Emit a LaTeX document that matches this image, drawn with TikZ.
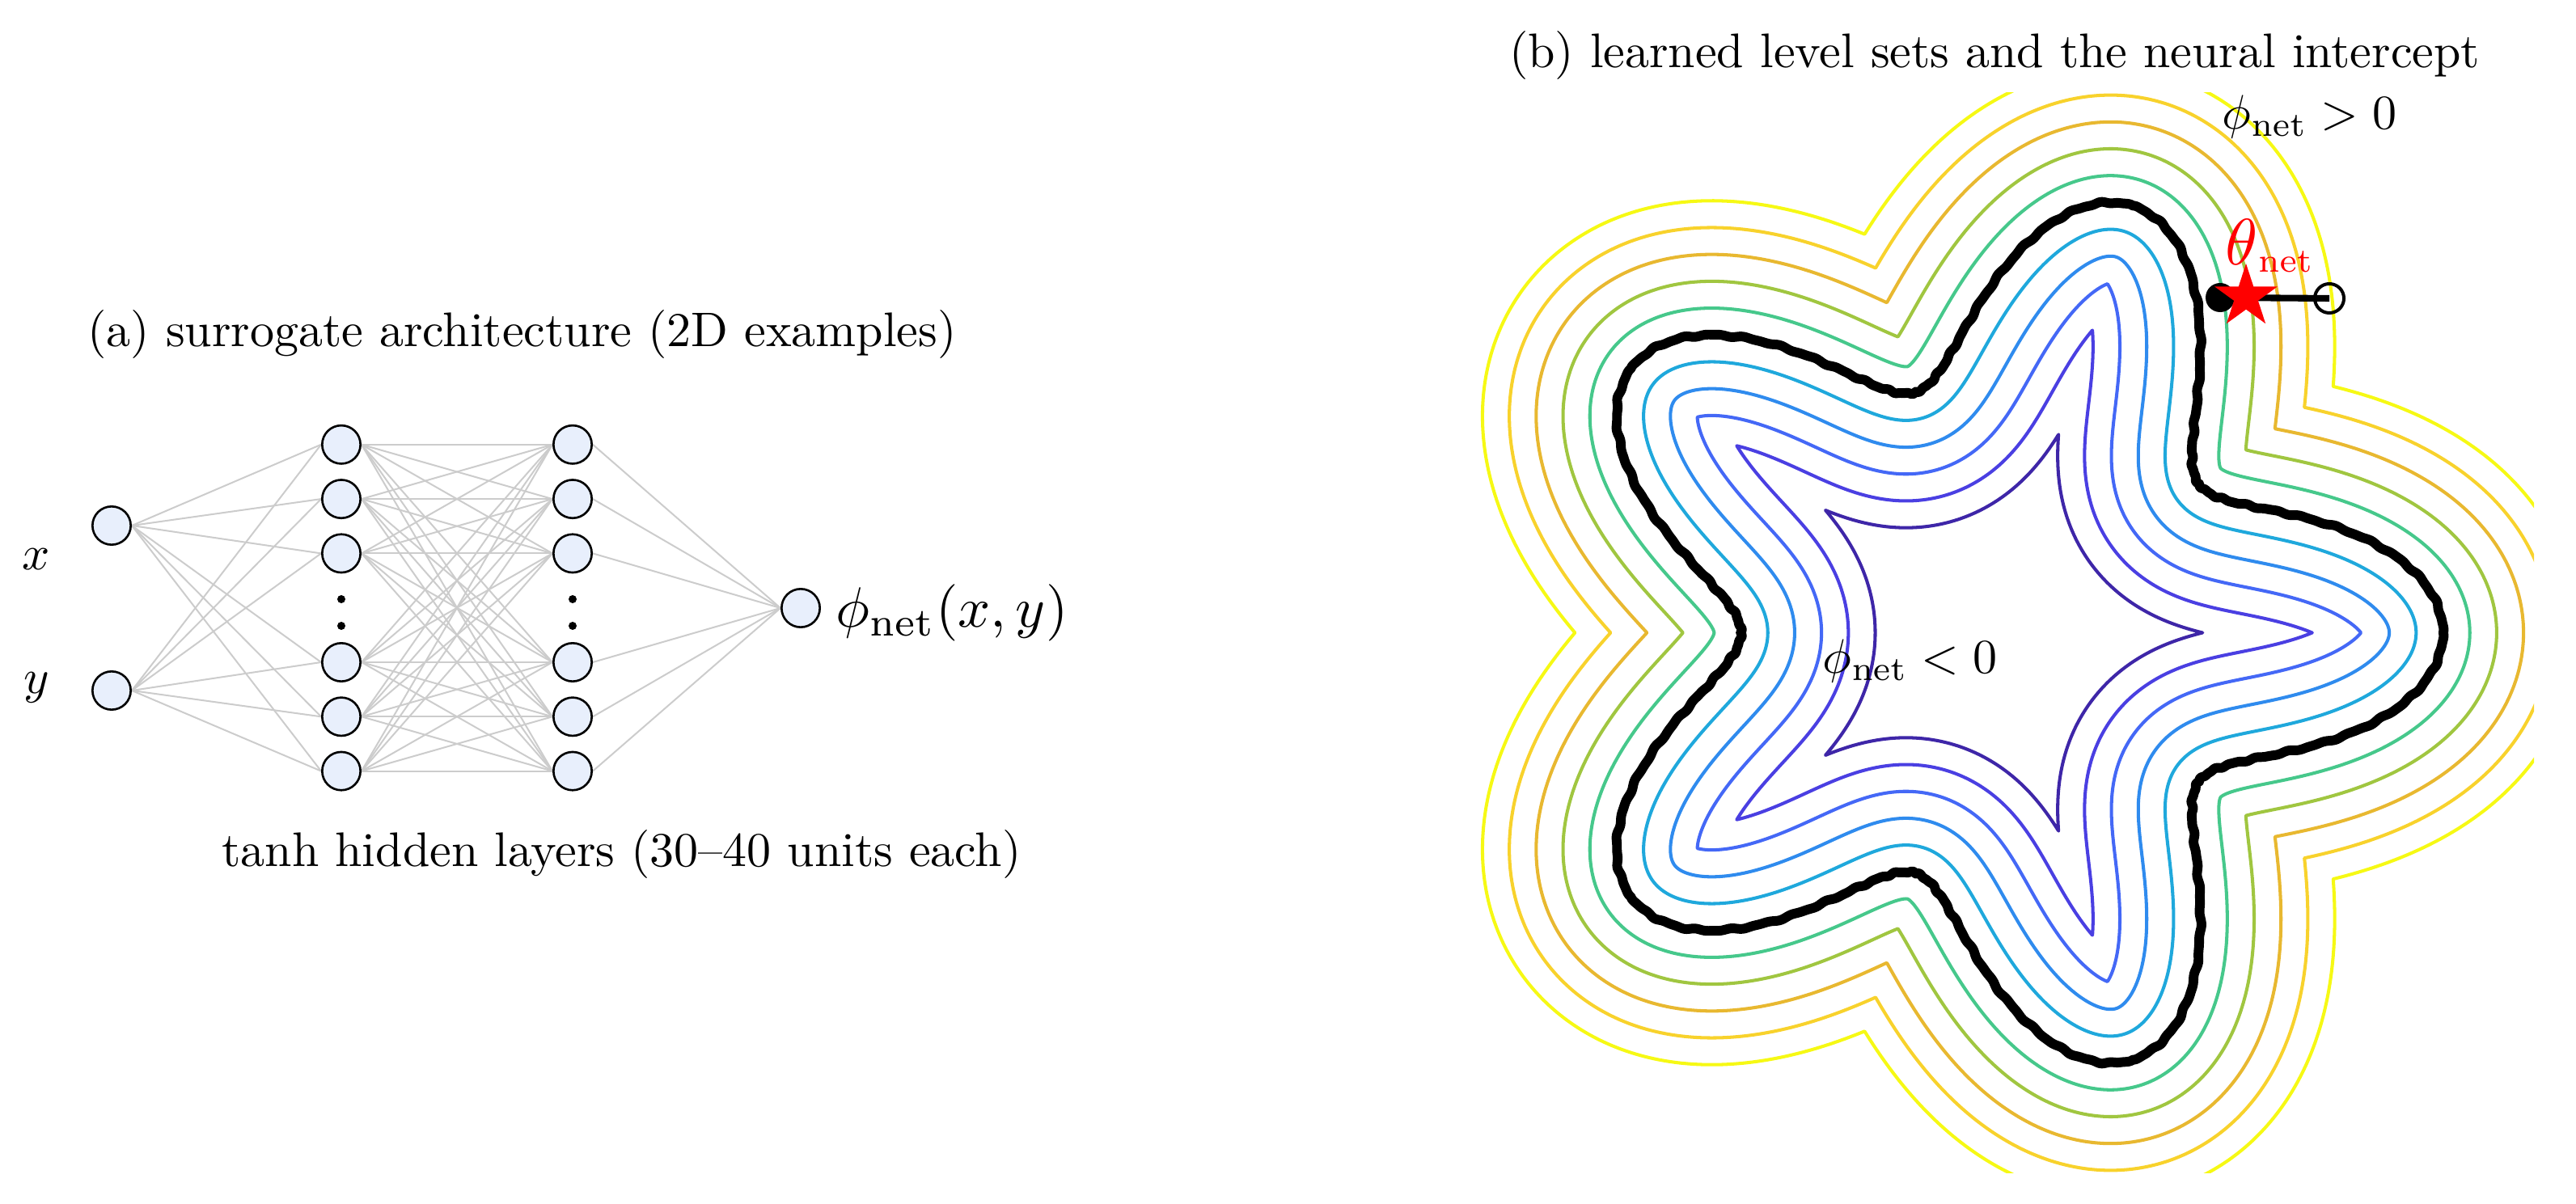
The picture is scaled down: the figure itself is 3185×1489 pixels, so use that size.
\documentclass[tikz,border=0pt]{standalone}
\usepackage{graphicx}
\usetikzlibrary{shapes.geometric,backgrounds}
\definecolor{lvmA}{HTML}{3E26A8}
\definecolor{lvmB}{HTML}{4A3FE2}
\definecolor{lvmC}{HTML}{4468F6}
\definecolor{lvmD}{HTML}{2F8BEE}
\definecolor{lvmE}{HTML}{1FA8DC}
\definecolor{lvpA}{HTML}{46C88B}
\definecolor{lvpB}{HTML}{A0C640}
\definecolor{lvpC}{HTML}{E8B830}
\definecolor{lvpD}{HTML}{F8D22C}
\definecolor{lvpE}{HTML}{F6F914}
\definecolor{nodefill}{HTML}{E8EFFC}
\definecolor{edgegray}{HTML}{CCCCCC}
\newcommand\ts[1]{\scalebox{1.707}{#1}}

\ExplSyntaxOn
\seq_new:N \l_lv_pts_seq
\seq_new:N \l_lv_rev_seq
\tl_new:N \l_lv_first_tl
\tl_new:N \l_lv_start_tl
\fp_new:N \l_lv_s_fp
\fp_new:N \l_lv_se_fp
\fp_new:N \l_lv_j_fp
\fp_new:N \l_lv_t_fp
\fp_new:N \l_lv_c_fp
\fp_new:N \l_lv_sn_fp
\fp_new:N \l_lv_r_fp
\fp_new:N \l_lv_dr_fp
\fp_new:N \l_lv_tx_fp
\fp_new:N \l_lv_ty_fp
\fp_new:N \l_lv_tn_fp
\fp_new:N \l_lv_qx_fp
\fp_new:N \l_lv_qy_fp
\fp_new:N \l_lv_ph_fp
\fp_new:N \l_lv_ox_fp
\fp_new:N \l_lv_oy_fp
\fp_new:N \l_lv_oph_fp
\fp_new:N \l_lv_w_fp
\bool_new:N \l_lv_neg_bool
\bool_new:N \l_lv_done_bool
\int_new:N \l_lv_n_int
\fp_const:Nn \c_lv_rz_fp { 434 }
\fp_const:Nn \c_lv_a_fp { 121 }

\cs_new_protected:Npn \lv_add:nn #1#2
  {
    \seq_put_right:Nx \l_lv_pts_seq
      {
        { \fp_to_decimal:n { round ( atand ( #2 , #1 ) , 4 ) } }
        { \fp_to_decimal:n { round ( sqrt ( ( #1 ) ^ 2 + ( #2 ) ^ 2 ) , 3 ) } }
      }
  }

\cs_new_protected:Npn \lv_step:n #1
  {
    \fp_set:Nn \l_lv_t_fp { 36 * #1 / \l_lv_n_int }
    \fp_set:Nn \l_lv_se_fp
      { \l_lv_s_fp + \l_lv_j_fp * ( sind ( 110 * \l_lv_t_fp ) + 0.5 * sind ( 190 * \l_lv_t_fp + 50 ) ) }
    \fp_set:Nn \l_lv_c_fp { cosd ( \l_lv_t_fp ) }
    \fp_set:Nn \l_lv_sn_fp { sind ( \l_lv_t_fp ) }
    \fp_set:Nn \l_lv_r_fp { \c_lv_rz_fp + \c_lv_a_fp * cosd ( 5 * \l_lv_t_fp ) }
    \fp_set:Nn \l_lv_dr_fp { -5 * \c_lv_a_fp * sind ( 5 * \l_lv_t_fp ) }
    \fp_set:Nn \l_lv_tx_fp { \l_lv_dr_fp * \l_lv_c_fp - \l_lv_r_fp * \l_lv_sn_fp }
    \fp_set:Nn \l_lv_ty_fp { \l_lv_dr_fp * \l_lv_sn_fp + \l_lv_r_fp * \l_lv_c_fp }
    \fp_set:Nn \l_lv_tn_fp { sqrt ( \l_lv_tx_fp ^ 2 + \l_lv_ty_fp ^ 2 ) }
    \fp_set:Nn \l_lv_qx_fp { \l_lv_r_fp * \l_lv_c_fp + \l_lv_se_fp * \l_lv_ty_fp / \l_lv_tn_fp }
    \fp_set:Nn \l_lv_qy_fp { \l_lv_r_fp * \l_lv_sn_fp - \l_lv_se_fp * \l_lv_tx_fp / \l_lv_tn_fp }
    \fp_set:Nn \l_lv_ph_fp { atand ( \l_lv_qy_fp , \l_lv_qx_fp ) }
    \fp_compare:nNnTF { \l_lv_ph_fp } < { -0.000001 }
      {
        \seq_clear:N \l_lv_pts_seq
        \bool_set_true:N \l_lv_neg_bool
      }
      {
        \fp_compare:nNnTF { \l_lv_ph_fp } > { 36.000001 }
          {
            \fp_set:Nn \l_lv_w_fp { ( 36 - \l_lv_oph_fp ) / ( \l_lv_ph_fp - \l_lv_oph_fp ) }
            \lv_add:nn
              { \l_lv_ox_fp + \l_lv_w_fp * ( \l_lv_qx_fp - \l_lv_ox_fp ) }
              { \l_lv_oy_fp + \l_lv_w_fp * ( \l_lv_qy_fp - \l_lv_oy_fp ) }
            \bool_set_true:N \l_lv_done_bool
          }
          {
            \bool_if:NT \l_lv_neg_bool
              {
                \fp_set:Nn \l_lv_w_fp { ( 0 - \l_lv_oph_fp ) / ( \l_lv_ph_fp - \l_lv_oph_fp ) }
                \lv_add:nn
                  { \l_lv_ox_fp + \l_lv_w_fp * ( \l_lv_qx_fp - \l_lv_ox_fp ) }
                  { \l_lv_oy_fp + \l_lv_w_fp * ( \l_lv_qy_fp - \l_lv_oy_fp ) }
                \bool_set_false:N \l_lv_neg_bool
              }
            \lv_add:nn { \l_lv_qx_fp } { \l_lv_qy_fp }
          }
      }
    \fp_set_eq:NN \l_lv_ox_fp \l_lv_qx_fp
    \fp_set_eq:NN \l_lv_oy_fp \l_lv_qy_fp
    \fp_set_eq:NN \l_lv_oph_fp \l_lv_ph_fp
  }

\cs_new_protected:Npn \lv_curve:nnn #1#2#3
  {
    \seq_clear:N \l_lv_pts_seq
    \bool_set_false:N \l_lv_neg_bool
    \bool_set_false:N \l_lv_done_bool
    \fp_set:Nn \l_lv_s_fp { #1 }
    \fp_set:Nn \l_lv_j_fp { #3 }
    \int_set:Nn \l_lv_n_int { #2 }
    \int_step_inline:nnn { 0 } { \l_lv_n_int }
      { \bool_if:NF \l_lv_done_bool { \lv_step:n { ##1 } } }
    \seq_set_eq:NN \l_lv_rev_seq \l_lv_pts_seq
    \seq_reverse:N \l_lv_rev_seq
  }

\cs_new:Npn \lv_pm:nn #1#2 { \lv_pm_aux:nnn {#1} #2 }
\cs_new:Npn \lv_pm_aux:nnn #1#2#3
  { --( \fp_to_decimal:n { 72 * ( #1 ) - ( #2 ) } \c_colon_str #3 ) }
\cs_new:Npn \lv_pp:nn #1#2 { \lv_pp_aux:nnn {#1} #2 }
\cs_new:Npn \lv_pp_aux:nnn #1#2#3
  { --( \fp_to_decimal:n { 72 * ( #1 ) + ( #2 ) } \c_colon_str #3 ) }
\cs_new:Npn \lv_petal:n #1
  {
    \seq_map_tokens:Nn \l_lv_rev_seq { \lv_pm:nn {#1} }
    \seq_map_tokens:Nn \l_lv_pts_seq { \lv_pp:nn {#1} }
  }
\cs_new:Npn \lv_start:nn #1#2 { ( \fp_to_decimal:n { - ( #1 ) } \c_colon_str #2 ) }

\cs_new_protected:Npn \lv_draw:nnnn #1#2#3#4
  {
    \lv_curve:nnn {#2} {#3} {#4}
    \seq_get_left:NN \l_lv_rev_seq \l_lv_first_tl
    \tl_set:Nx \l_lv_start_tl { \exp_after:wN \lv_start:nn \l_lv_first_tl }
    \use:x
      {
        \exp_not:n { \draw [#1] }
        \exp_not:V \l_lv_start_tl
        \int_step_function:nnN { 0 } { 4 } \lv_petal:n
        \exp_not:n { --cycle; }
      }
  }
% style, offset (px), samples per half petal, jitter amplitude (px)
\NewDocumentCommand \lvdraw { m m m O{0} } { \lv_draw:nnnn {#1} {#2} {#3} {#4} }
\ExplSyntaxOff

\begin{document}
\begin{tikzpicture}[x=0.01cm,y=-0.01cm,
  nn/.style={circle,draw=black,fill=nodefill,line width=0.75pt,minimum size=0.473cm,inner sep=0pt},
  vdot/.style={circle,fill=black,minimum size=0.1cm,inner sep=0pt},
  nnedge/.style={draw=edgegray,line width=0.57pt},
  lbl/.style={inner sep=0pt},
  lv/.style={line width=1.15pt,line join=round},
  zeroline/.style={draw=black,line width=3.4pt,line join=round}]
\path[use as bounding box] (0,0) rectangle (3185,1489);

% ---------- (a) network ----------
\node[nn] (x) at (138,650) {};
\node[nn] (y) at (138,854) {};
\foreach \i/\yy in {1/549.8,2/617.1,3/684.4,4/819.0,5/886.3,6/953.6} {
  \node[nn] (a\i) at (422,\yy) {};
  \node[nn] (b\i) at (708,\yy) {};
}
\node[nn] (o) at (990,752) {};
\node[vdot] (da1) at (422,741) {};
\node[vdot] (da2) at (422,774) {};
\node[vdot] (db1) at (708,741) {};
\node[vdot] (db2) at (708,774) {};
\begin{scope}[on background layer]
\foreach \i in {1,...,6} {
  \draw[nnedge] (x.east) -- (a\i.west);
  \draw[nnedge] (y.east) -- (a\i.west);
  \draw[nnedge] (b\i.east) -- (o.west);
  \foreach \j in {1,...,6} { \draw[nnedge] (a\i.east) -- (b\j.west); }
}
\end{scope}
\node[lbl,anchor=base] (ta) at (645.5,429) {\ts{(a) surrogate architecture (2D examples)}};
\node[lbl,anchor=base] (tl) at (768.5,1071) {\ts{tanh hidden layers (30--40 units each)}};
\node[lbl,anchor=base] (lx) at (45,705) {\ts{$x$}};
\node[lbl,anchor=base] (ly) at (45,857) {\ts{$y$}};
\node[lbl,anchor=base west] (lo) at (1033,776) {\scalebox{2.0}{$\phi_{\mathrm{net}}(x,y)$}};

% ---------- (b) level sets ----------
\begin{scope}
\clip (1798,115) rectangle (3133,1450);
\begin{scope}[shift={(2465.5,782.5)}]
\lvdraw{lv,draw=lvmA}{-166}{240}
\lvdraw{lv,draw=lvmB}{-132.8}{240}
\lvdraw{lv,draw=lvmC}{-99.6}{240}
\lvdraw{lv,draw=lvmD}{-66.4}{240}
\lvdraw{lv,draw=lvmE}{-33.2}{240}
\lvdraw{lv,draw=lvpA}{33.2}{240}
\lvdraw{lv,draw=lvpB}{66.4}{240}
\lvdraw{lv,draw=lvpC}{99.6}{240}
\lvdraw{lv,draw=lvpD}{132.8}{240}
\lvdraw{lv,draw=lvpE}{166}{240}
\lvdraw{zeroline}{0}{360}[0.9]
\end{scope}
\end{scope}

\node[circle,fill=black,minimum size=0.36cm,inner sep=0pt] (dotp) at (2745,368) {};
\node[circle,draw=black,line width=1.14pt,minimum size=0.36cm,inner sep=0pt] (ring) at (2880,369) {};
\draw[line width=2.3pt] (dotp.center) -- (ring.center);
\node[star,star points=5,star point ratio=2.618,fill=red,inner sep=0pt,minimum size=0.82cm] (star) at (2777,367) {};

\node[lbl,anchor=base] (tb) at (2466,84) {\ts{(b) learned level sets and the neural intercept}};
\node[lbl,anchor=base west] (lp) at (2747,160) {\ts{$\phi_{\mathrm{net}}>0$}};
\node[lbl,anchor=base west] (ln) at (2253,833) {\ts{$\phi_{\mathrm{net}}<0$}};
\node[lbl,anchor=base west,text=red] (lt) at (2751,328) {\ts{$\scalebox{1.35}{$\theta$}_{\mathrm{net}}$}};
\end{tikzpicture}
\end{document}
